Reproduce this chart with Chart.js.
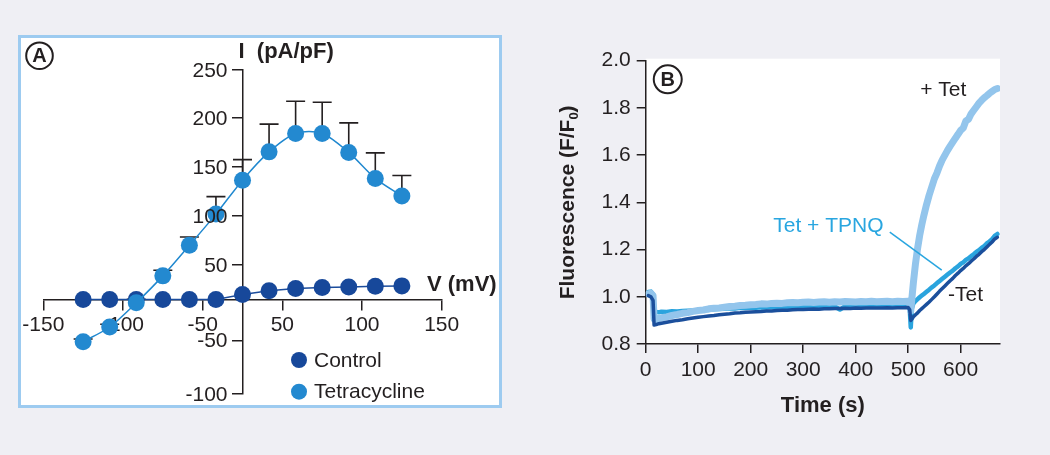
<!DOCTYPE html>
<html>
<head>
<meta charset="utf-8">
<script src="https://cdn.jsdelivr.net/npm/chart.js@4.4.0/dist/chart.umd.min.js"></script>
<style>
  body { margin: 0; background: #efeff4; width: 1050px; height: 455px; overflow: hidden; position: relative; }
  #boxA { position: absolute; left: 18px; top: 35px; width: 478px; height: 367px; border: 3px solid #9dcbf0; background: #fff; }
  #cA { position: absolute; left: 0; top: 0; }
  #cB { position: absolute; left: 520px; top: 0; }
</style>
</head>
<body>
<div id="boxA"></div>
<canvas id="cA" width="520" height="455"></canvas>
<canvas id="cB" width="530" height="455"></canvas>
<script>
// ---- panel A : I-V curve ----
var voltage = [-120, -100, -80, -60, -40, -20, 0, 20, 40, 60, 80, 100, 120];
var controlI = [0, 0, 0, 0, 0, 0, 5.4, 9.4, 12, 13.1, 13.7, 14.5, 14.8];
var tetI = [-46, -30, -3.7, 25.7, 59, 93, 130, 160.8, 180.9, 180.9, 160.2, 131.9, 112.6];
var tetErr = [3, 3, 4, 6.2, 9, 19, 22.3, 30.2, 35, 34, 32.2, 27.8, 22.5];
// tick marks sit where the original figure put them
var xTickAtA = [-150, -90, -30, 30, 90, 150];
var xTickTextA = ['-150', '-100', '-50', '50', '100', '150'];
var yTickAtA = [250, 198, 144.6, 90.9, 37.5, -44.9, -103];
var yTickTextA = ['250', '200', '150', '100', '50', '-50', '-100'];

// ---- panel B : fluorescence traces ----
var timeS = [5, 10, 14, 16, 20, 25, 30,
  40, 50, 60, 70, 80, 90, 100, 110, 120, 130, 140, 150, 160, 170, 180, 190, 200,
  210, 220, 230, 240, 250, 260, 270, 280, 290, 300, 310, 320, 330, 340, 350, 360,
  370, 380, 390, 400, 410, 420, 430, 440, 450, 460, 470, 480, 490, 500,
  503, 505, 507, 510, 514, 518, 522, 526, 530,
  535, 540, 545, 550, 555, 560, 565, 570, 575, 580, 585, 590, 595, 600, 605, 610,
  615, 620, 625, 630, 635, 640, 645, 650, 655, 660, 665, 670];
var plusTet = [1.012, 1.015, 1.005, 0.905, 0.902, 0.908, 0.911,
  0.915, 0.921, 0.925, 0.930, 0.933, 0.938, 0.942, 0.944, 0.949, 0.951, 0.953, 0.956, 0.959, 0.960, 0.963, 0.964, 0.966,
  0.967, 0.970, 0.969, 0.972, 0.973, 0.972, 0.975, 0.976, 0.975, 0.977, 0.978, 0.976, 0.978, 0.979, 0.977, 0.979,
  0.978, 0.980, 0.979, 0.978, 0.980, 0.979, 0.981, 0.979, 0.980, 0.981, 0.979, 0.981, 0.980, 0.981,
  0.975, 0.940, 0.990, 1.060, 1.140, 1.205, 1.260, 1.305, 1.345,
  1.390, 1.430, 1.465, 1.500, 1.525, 1.555, 1.580, 1.600, 1.620, 1.638, 1.655, 1.672, 1.688, 1.705, 1.715, 1.745,
  1.752, 1.775, 1.790, 1.805, 1.820, 1.832, 1.843, 1.852, 1.862, 1.870, 1.878, 1.882];
var tetTpnq = [1.020, 1.022, 1.010, 0.935, 0.936, 0.934, 0.937,
  0.936, 0.939, 0.938, 0.940, 0.941, 0.942, 0.943, 0.945, 0.944, 0.947, 0.948, 0.949, 0.951, 0.950, 0.953, 0.952, 0.955,
  0.954, 0.956, 0.955, 0.957, 0.956, 0.958, 0.957, 0.959, 0.957, 0.959, 0.958, 0.960, 0.958, 0.959, 0.961, 0.959,
  0.946, 0.960, 0.959, 0.961, 0.960, 0.961, 0.959, 0.961, 0.960, 0.962, 0.960, 0.961, 0.962, 0.962,
  0.950, 0.870, 0.950, 0.972, 0.982, 0.990, 0.998, 1.005, 1.012,
  1.021, 1.030, 1.040, 1.048, 1.058, 1.067, 1.076, 1.085, 1.094, 1.103, 1.111, 1.121, 1.129, 1.139, 1.146, 1.156,
  1.163, 1.172, 1.180, 1.190, 1.197, 1.207, 1.215, 1.226, 1.234, 1.244, 1.258, 1.266];
var minusTet = [1.005, 1.000, 0.985, 0.880, 0.882, 0.886, 0.888,
  0.892, 0.896, 0.900, 0.903, 0.907, 0.910, 0.913, 0.916, 0.919, 0.921, 0.924, 0.926, 0.928, 0.931, 0.932, 0.934, 0.936,
  0.937, 0.938, 0.940, 0.940, 0.942, 0.943, 0.943, 0.945, 0.946, 0.946, 0.947, 0.948, 0.947, 0.949, 0.949, 0.950,
  0.950, 0.951, 0.950, 0.952, 0.951, 0.952, 0.953, 0.952, 0.953, 0.954, 0.953, 0.954, 0.954, 0.955,
  0.945, 0.900, 0.905, 0.915, 0.924, 0.932, 0.942, 0.950, 0.958,
  0.968, 0.978, 0.989, 1.000, 1.012, 1.024, 1.035, 1.046, 1.057, 1.068, 1.078, 1.090, 1.100, 1.111, 1.120, 1.131,
  1.140, 1.151, 1.160, 1.171, 1.180, 1.191, 1.200, 1.211, 1.222, 1.232, 1.245, 1.252];

var FONT = '"Liberation Sans", Arial, Helvetica, sans-serif';
var INK = '#231f20';
Chart.defaults.font.family = FONT;
Chart.defaults.color = INK;

function circleLabel(ctx, cx, cy, r, txt) {
  ctx.save();
  ctx.beginPath();
  ctx.arc(cx, cy, r, 0, Math.PI * 2);
  ctx.fillStyle = '#fff';
  ctx.fill();
  ctx.lineWidth = 2;
  ctx.strokeStyle = INK;
  ctx.stroke();
  ctx.fillStyle = INK;
  ctx.font = 'bold 20px ' + FONT;
  ctx.textAlign = 'center';
  ctx.textBaseline = 'middle';
  ctx.fillText(txt, cx, cy + 1);
  ctx.restore();
}

// error bars (upwards only) for tetracycline
var errorBars = {
  id: 'errorBars',
  beforeDatasetsDraw: function (chart) {
    var ctx = chart.ctx, xs = chart.scales.x, ys = chart.scales.y;
    ctx.save();
    ctx.strokeStyle = INK;
    ctx.lineWidth = 1.6;
    tetI.forEach(function (v, i) {
      var px = xs.getPixelForValue(voltage[i]);
      var y0 = ys.getPixelForValue(v);
      var y1 = ys.getPixelForValue(v + tetErr[i]);
      ctx.beginPath();
      ctx.moveTo(px, y0);
      ctx.lineTo(px, y1);
      ctx.moveTo(px - 9.5, y1);
      ctx.lineTo(px + 9.5, y1);
      ctx.stroke();
    });
    ctx.restore();
  }
};

var panelAText = {
  id: 'panelAText',
  afterDraw: function (chart) {
    var ctx = chart.ctx, a = chart.chartArea;
    var x0 = chart.scales.x.getPixelForValue(0);
    var yz = chart.scales.y.getPixelForValue(0);
    ctx.save();
    ctx.fillStyle = INK;
    // y tick labels, right aligned left of the tick marks
    ctx.font = '21px ' + FONT;
    ctx.textAlign = 'right';
    ctx.textBaseline = 'middle';
    yTickAtA.forEach(function (v, i) {
      ctx.fillText(yTickTextA[i], x0 - 15, chart.scales.y.getPixelForValue(v) + 1);
    });
    ctx.textAlign = 'left';
    ctx.font = 'bold 22px ' + FONT;
    ctx.fillText('I  (pA/pF)', x0 - 4, a.top - 18);
    ctx.fillText('V (mV)', 427, yz - 15);
    // legend
    ctx.font = '21px ' + FONT;
    chart.data.datasets.forEach(function (ds, i) {
      var ly = 360 + i * 31.7;
      ctx.beginPath();
      ctx.arc(299, ly, 8, 0, Math.PI * 2);
      ctx.fillStyle = ds.pointBackgroundColor;
      ctx.fill();
      ctx.fillStyle = INK;
      ctx.fillText(ds.label, 314, ly + 1);
    });
    ctx.restore();
    circleLabel(ctx, 39.5, 55.7, 13.3, 'A');
  }
};

new Chart(document.getElementById('cA'), {
  type: 'line',
  data: {
    datasets: [
      {
        label: 'Control',
        data: voltage.map(function (v, i) { return { x: v, y: controlI[i] }; }),
        borderColor: '#1b4c9c',
        borderWidth: 1.5,
        pointBackgroundColor: '#17489a',
        pointBorderWidth: 0,
        pointRadius: 8.5,
        tension: 0,
        order: 1
      },
      {
        label: 'Tetracycline',
        data: voltage.map(function (v, i) { return { x: v, y: tetI[i] }; }),
        borderColor: '#2088cf',
        borderWidth: 1.5,
        pointBackgroundColor: '#2389d0',
        pointBorderWidth: 0,
        pointRadius: 8.5,
        tension: 0.3,
        order: 0
      }
    ]
  },
  options: {
    responsive: false,
    animation: false,
    layout: { padding: { left: 43.3, right: 78.3, top: 70, bottom: 61 } },
    plugins: { legend: { display: false }, tooltip: { enabled: false } },
    scales: {
      x: {
        type: 'linear', min: -150, max: 150, position: { y: 0 },
        afterBuildTicks: function (s) { s.ticks = xTickAtA.map(function (v) { return { value: v }; }); },
        ticks: { autoSkip: false, maxRotation: 0, padding: 3, font: { size: 21 }, color: INK,
          callback: function (v, i) { return xTickTextA[i]; } },
        grid: { drawOnChartArea: false, drawTicks: true, tickLength: 10, color: INK, lineWidth: 1.5 },
        border: { color: INK, width: 1.5 }
      },
      y: {
        type: 'linear', min: -103, max: 250, position: { x: 0 },
        afterBuildTicks: function (s) { s.ticks = yTickAtA.map(function (v) { return { value: v }; }); },
        ticks: { display: false, autoSkip: false },
        grid: { drawOnChartArea: false, drawTicks: true, tickLength: 10, color: INK, lineWidth: 1.5 },
        border: { color: INK, width: 1.5 }
      }
    }
  },
  plugins: [errorBars, panelAText]
});

// ---- panel B ----
var whiteArea = {
  id: 'whiteArea',
  beforeDraw: function (chart) {
    var a = chart.chartArea, ctx = chart.ctx;
    ctx.save();
    ctx.fillStyle = '#fff';
    ctx.fillRect(a.left, a.top - 2, a.right - a.left, a.bottom - a.top + 2);
    ctx.restore();
  }
};

var panelBText = {
  id: 'panelBText',
  afterDraw: function (chart) {
    var ctx = chart.ctx, a = chart.chartArea, xs = chart.scales.x, ys = chart.scales.y;
    ctx.save();
    // y title with subscript
    ctx.translate(48, (a.top + a.bottom) / 2);
    ctx.rotate(-Math.PI / 2);
    var big = 'bold 21px ' + FONT, small = 'bold 13px ' + FONT;
    var p1 = 'Fluorescence (F/F', p2 = '0', p3 = ')';
    ctx.font = big;
    var w1 = ctx.measureText(p1).width, w3 = ctx.measureText(p3).width;
    ctx.font = small;
    var w2 = ctx.measureText(p2).width;
    var tx = -(w1 + w2 + w3) / 2;
    ctx.fillStyle = INK;
    ctx.textBaseline = 'middle';
    ctx.font = big; ctx.fillText(p1, tx, 0); tx += w1;
    ctx.font = small; ctx.fillText(p2, tx, 6); tx += w2;
    ctx.font = big; ctx.fillText(p3, tx, 0);
    ctx.restore();

    ctx.save();
    ctx.font = '21px ' + FONT;
    ctx.textBaseline = 'middle';
    ctx.fillStyle = INK;
    ctx.fillText('+ Tet', xs.getPixelForValue(523), ys.getPixelForValue(1.876));
    ctx.fillText('-Tet', xs.getPixelForValue(576), ys.getPixelForValue(1.008));
    ctx.fillStyle = '#29a6e0';
    ctx.fillText('Tet + TPNQ', xs.getPixelForValue(243), ys.getPixelForValue(1.297));
    ctx.strokeStyle = '#29a6e0';
    ctx.lineWidth = 1.5;
    ctx.beginPath();
    ctx.moveTo(xs.getPixelForValue(465), ys.getPixelForValue(1.274));
    ctx.lineTo(xs.getPixelForValue(564), ys.getPixelForValue(1.113));
    ctx.stroke();
    ctx.restore();
    circleLabel(ctx, xs.getPixelForValue(42), ys.getPixelForValue(1.921), 14, 'B');
  }
};

function trace(vals) {
  return timeS.map(function (t, i) { return { x: t, y: vals[i] }; });
}

new Chart(document.getElementById('cB'), {
  type: 'line',
  data: {
    datasets: [
      { label: '-Tet', data: trace(minusTet), borderColor: '#1b4f9c', borderWidth: 3.5, order: 0 },
      { label: '+ Tet', data: trace(plusTet), borderColor: '#93c5ec', borderWidth: 7, order: 1 },
      { label: 'Tet + TPNQ', data: trace(tetTpnq), borderColor: '#2aa4de', borderWidth: 4.5, order: 2 }
    ]
  },
  options: {
    responsive: false,
    animation: false,
    elements: { point: { radius: 0 }, line: { tension: 0, borderJoinStyle: 'round', borderCapStyle: 'round' } },
    layout: { padding: { left: 0, right: 50, top: 60.7, bottom: 0 } },
    plugins: { legend: { display: false }, tooltip: { enabled: false } },
    scales: {
      x: {
        type: 'linear', min: 0, max: 675, position: 'bottom',
        afterFit: function (s) { s.height = 111; },
        ticks: { stepSize: 100, includeBounds: false, maxRotation: 0, padding: 5, font: { size: 21 }, color: INK },
        grid: { drawOnChartArea: false, drawTicks: true, tickLength: 9, color: INK, lineWidth: 1.5 },
        border: { color: INK, width: 1.5 },
        title: { display: true, text: 'Time (s)', font: { size: 22, weight: 'bold' }, color: INK, padding: { top: 0, bottom: 36 } }
      },
      y: {
        type: 'linear', min: 0.8, max: 2.0, position: 'left',
        afterFit: function (s) { s.width = 125.7; },
        ticks: { stepSize: 0.2, padding: 6, font: { size: 21 }, color: INK,
          callback: function (v) { return v.toFixed(1); } },
        grid: { drawOnChartArea: false, drawTicks: true, tickLength: 9, color: INK, lineWidth: 1.5 },
        border: { color: INK, width: 1.5 }
      }
    }
  },
  plugins: [whiteArea, panelBText]
});
</script>
</body>
</html>
